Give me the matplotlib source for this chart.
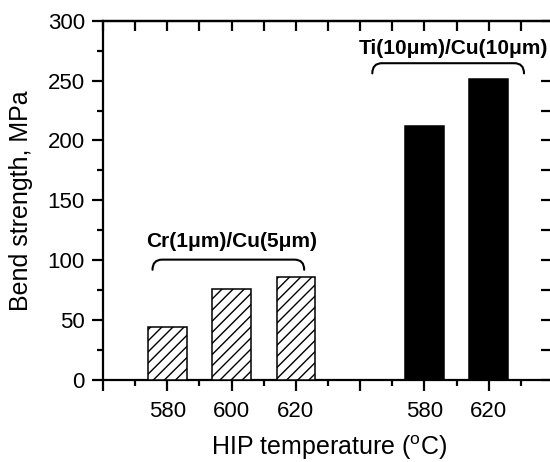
import numpy as np
import matplotlib
matplotlib.use("Agg")
from matplotlib import pyplot as plt
from matplotlib.path import Path
from matplotlib.patches import PathPatch
from matplotlib.ticker import MultipleLocator

plt.rcParams["font.family"] = ["Liberation Sans", "DejaVu Sans"]
plt.rcParams["mathtext.default"] = "regular"

# bend strength (MPa) vs HIP temperature
cr_temps = ["580", "600", "620"]
cr_strength = [44, 76, 86]
ti_temps = ["580", "620"]
ti_strength = [212, 251]
cr_label = "Cr(1\u03bcm)/Cu(5\u03bcm)"
ti_label = "Ti(10\u03bcm)/Cu(10\u03bcm)"

cr_x = np.arange(1, len(cr_temps) + 1)
ti_x = cr_x[-1] + 2 + np.arange(len(ti_temps))

fig = plt.figure(figsize=(5.5, 4.62), dpi=100)
# right spine sits just past the image edge, as in the original
ax = fig.add_axes([0.1873, 0.1775, 0.818, 0.7777])

ax.bar(cr_x, cr_strength, width=0.6, color="white", edgecolor="black",
       lw=1.1, hatch="///", zorder=3)
ax.bar(ti_x, ti_strength, width=0.6, color="black", edgecolor="black",
       lw=1.1, zorder=3)


def bracket(x0, x1, ytop, yend, r=0.15):
    verts = [(x0, yend), (x0, ytop), (x0 + r, ytop),
             (x1 - r, ytop), (x1, ytop), (x1, yend)]
    codes = [Path.MOVETO, Path.CURVE3, Path.CURVE3,
             Path.LINETO, Path.CURVE3, Path.CURVE3]
    ax.add_patch(PathPatch(Path(verts, codes), fill=False, lw=1.5,
                           edgecolor="black", capstyle="round", zorder=4))


bracket(0.77, 3.13, 100.5, 92)
bracket(4.19, 6.55, 264.5, 256)
ax.text(2.0, 116, cr_label, ha="center", va="center", fontsize=15,
        fontweight="bold")
ax.text(5.46, 277, ti_label, ha="center", va="center", fontsize=15,
        fontweight="bold", clip_on=False, zorder=10,
        bbox=dict(facecolor="white", edgecolor="none", pad=2.5))

ax.set_xlim(0, 7)
ax.set_ylim(0, 300)

ticks = np.arange(0, 8)
labels = [""] * len(ticks)
for x, t in zip(cr_x, cr_temps):
    labels[x] = t
for x, t in zip(ti_x, ti_temps):
    labels[x] = t
ax.set_xticks(ticks)
ax.set_xticklabels(labels)
ax.xaxis.set_minor_locator(MultipleLocator(0.5))
ax.yaxis.set_major_locator(MultipleLocator(50))
ax.yaxis.set_minor_locator(MultipleLocator(25))

ax.tick_params(which="major", direction="out", length=8, width=1.6,
               labelsize=16, pad=5)
ax.tick_params(which="minor", direction="out", length=4, width=1.6)
ax.tick_params(axis="x", which="major", pad=7)

top = ax.secondary_xaxis("top")
top.set_xticks(np.arange(0, 7.01, 0.5))
top.tick_params(direction="in", length=7, width=1.6, labeltop=False)
right = ax.secondary_yaxis("right")
right.set_yticks(np.arange(0, 301, 25))
right.tick_params(direction="in", length=9, width=1.6, labelright=False)
top.set_zorder(1)
right.set_zorder(1)

for a in (ax, top, right):
    for spine in a.spines.values():
        spine.set_linewidth(1.6)

ax.set_xlabel("HIP temperature ($^{o}$C)", fontsize=18)
ax.set_ylabel("Bend strength, MPa", fontsize=18)
ax.xaxis.set_label_coords(0.502, -0.150)
ax.yaxis.set_label_coords(-0.155, 0.5)

fig.savefig("out.png", dpi=100)
